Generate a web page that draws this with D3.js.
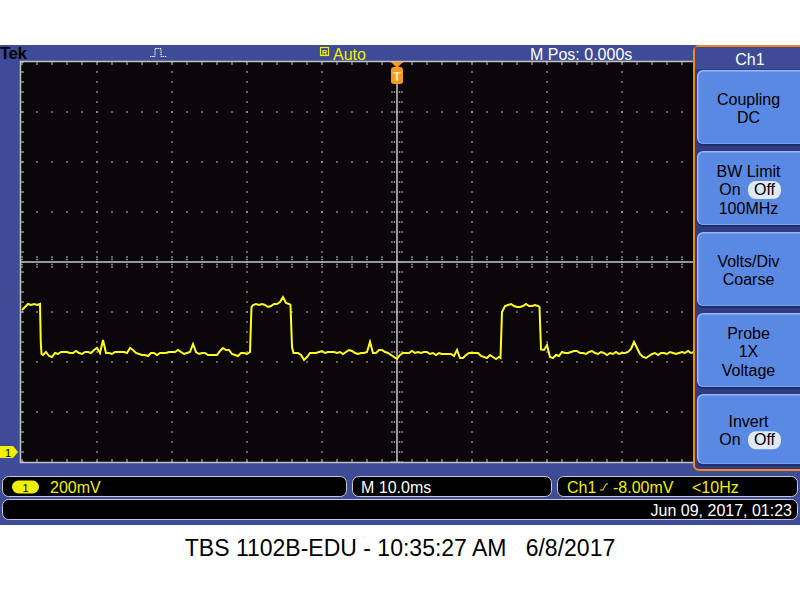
<!DOCTYPE html>
<html><head><meta charset="utf-8">
<script src="https://cdn.jsdelivr.net/npm/d3@7"></script>
<style>body{margin:0;background:#fff}svg{display:block}text{font-family:"Liberation Sans",Arial,sans-serif}</style>
</head><body>
<script>
// ---- data (time in ms, voltage in mV) ----
const times = [-50.0,-49.6,-49.2,-48.8,-48.4,-48.0,-47.6,-47.5,-47.4,-47.2,-46.8,-46.4,-46.0,-45.6,-45.2,-44.8,-44.4,-44.0,-43.6,-43.2,-42.8,-42.4,-42.0,-41.6,-41.2,-40.8,-40.4,-40.0,-39.6,-39.2,-38.8,-38.4,-38.0,-37.6,-37.2,-36.8,-36.4,-36.0,-35.6,-35.2,-34.8,-34.4,-34.0,-33.6,-33.2,-32.8,-32.4,-32.0,-31.6,-31.2,-30.8,-30.4,-30.0,-29.6,-29.2,-28.8,-28.4,-28.0,-27.6,-27.2,-26.8,-26.4,-26.0,-25.6,-25.2,-24.8,-24.4,-24.0,-23.6,-23.2,-22.8,-22.4,-22.0,-21.6,-21.2,-20.8,-20.4,-20.0,-19.6,-19.4,-19.2,-18.8,-18.4,-18.0,-17.6,-17.2,-16.8,-16.4,-16.0,-15.6,-15.2,-14.8,-14.4,-14.2,-14.0,-13.8,-13.6,-13.2,-12.8,-12.4,-12.0,-11.6,-11.2,-10.8,-10.4,-10.0,-9.6,-9.2,-8.8,-8.4,-8.0,-7.6,-7.2,-6.8,-6.4,-6.0,-5.6,-5.2,-4.8,-4.4,-4.0,-3.6,-3.2,-2.8,-2.4,-2.0,-1.6,-1.2,-0.8,-0.4,0.0,0.4,0.8,1.2,1.6,2.0,2.4,2.8,3.2,3.6,4.0,4.4,4.8,5.2,5.6,6.0,6.4,6.8,7.2,7.6,8.0,8.4,8.8,9.2,9.6,10.0,10.4,10.8,11.2,11.6,12.0,12.4,12.8,13.2,13.6,13.8,14.0,14.4,14.8,15.2,15.6,16.0,16.4,16.8,17.2,17.6,18.0,18.4,18.8,19.0,19.2,19.6,20.0,20.4,20.8,21.2,21.6,22.0,22.4,22.8,23.2,23.6,24.0,24.4,24.8,25.2,25.6,26.0,26.4,26.8,27.2,27.6,28.0,28.4,28.8,29.2,29.6,30.0,30.4,30.8,31.2,31.6,32.0,32.4,32.8,33.2,33.6,34.0,34.4,34.8,35.2,35.6,36.0,36.4,36.8,37.2,37.6,38.0,38.4,38.8,39.2,39.6];
const volts = [568,580,592,588,592,588,592,440,392,388,400,384,380,396,392,400,400,400,396,396,404,396,392,400,400,396,408,416,396,448,396,396,392,400,400,400,400,396,416,408,396,392,388,388,384,396,396,388,396,396,396,400,400,400,408,400,392,396,400,432,400,392,396,396,388,388,388,388,404,416,408,408,392,388,384,396,396,392,400,580,588,592,588,592,588,580,584,592,592,600,620,596,592,588,420,396,396,396,388,368,380,396,396,396,400,404,396,400,400,400,396,400,392,400,408,404,396,392,396,396,400,440,396,396,408,408,400,396,388,380,372,388,396,396,396,404,396,400,396,400,400,392,396,388,396,392,392,392,392,384,408,376,376,388,396,396,396,396,384,380,376,388,380,372,380,376,560,584,588,592,584,580,580,584,592,584,584,588,584,580,410,408,428,380,376,388,384,400,396,396,400,404,404,396,396,392,400,404,396,392,400,396,388,396,392,400,392,396,396,400,412,440,416,392,380,376,384,392,396,388,396,396,392,400,396,392,396,400,396,404,396,400];

// ---- settings / labels ----
const timeDomain = [-50, 50];      // 10 ms/div, 10 divisions
const voltDomain = [-40, 1560];    // 200 mV/div, 8 divisions, ground offset
const timeDiv = 10, voltDiv = 200;
const headerLabels = {brand: "Tek", mode: "Auto", mpos: "M Pos: 0.000s"};
const menuTitle = "Ch1";
const menuButtons = [
  ["Coupling", "DC"],
  ["BW Limit", "On|Off", "100MHz"],
  ["Volts/Div", "Coarse"],
  ["Probe", "1X", "Voltage"],
  ["Invert", "On|Off"]
];
const statusLabels = {scale: "200mV", time: "M 10.0ms", trig: "-8.00mV", freq: "<10Hz", date: "Jun 09, 2017, 01:23"};
const caption = "TBS 1102B-EDU - 10:35:27 AM   6/8/2017";

const W = 800, H = 600;
const svg = d3.select("body").append("svg").attr("width", W).attr("height", H);
svg.append("rect").attr("width", W).attr("height", H).attr("fill", "#fff");

const BLUE = "#3e4b96";
svg.append("rect").attr("x", 0).attr("y", 45).attr("width", W).attr("height", 480).attr("fill", BLUE);

// scales
const x = d3.scaleLinear().domain(timeDomain).range([22, 772]);
const y = d3.scaleLinear().domain(voltDomain).range([462, 62]);

// graticule
const gL = 21, gT = 62, gB = 462;
svg.append("rect").attr("x", gL).attr("y", gT).attr("width", 772 - gL).attr("height", gB - gT).attr("fill", "#0a0609");
svg.append("defs").append("clipPath").attr("id", "clip").append("rect")
  .attr("x", gL).attr("y", gT).attr("width", 772 - gL).attr("height", gB - gT);

const grid = svg.append("g");
const dotC = "#a9a9a9";
const majorT = d3.range(timeDomain[0] + timeDiv, timeDomain[1], timeDiv).filter(t => t !== 0);
const majorV = d3.range(voltDomain[0] + voltDiv, voltDomain[1], voltDiv).filter(v => v !== 760);
const minorT = d3.range(timeDomain[0], timeDomain[1] + 0.001, timeDiv / 5);
const minorV = d3.range(voltDomain[0], voltDomain[1] + 0.001, voltDiv / 5);
majorT.forEach(t => minorV.forEach(v => {
  grid.append("rect").attr("x", x(t) - 0.75).attr("y", y(v) - 0.75).attr("width", 1.5).attr("height", 1.5).attr("fill", dotC);
}));
majorV.forEach(v => minorT.forEach(t => {
  grid.append("rect").attr("x", x(t) - 0.75).attr("y", y(v) - 0.75).attr("width", 1.5).attr("height", 1.5).attr("fill", dotC);
}));
grid.append("line").attr("x1", gL).attr("x2", 772).attr("y1", y(760)).attr("y2", y(760)).attr("stroke", "#c8c8c8").attr("stroke-width", 1.5);
grid.append("line").attr("x1", x(0)).attr("x2", x(0)).attr("y1", gT).attr("y2", gB).attr("stroke", "#c8c8c8").attr("stroke-width", 1.5);
minorT.forEach(t => [-5, -2.5, 2.5, 5].forEach(o => {
  grid.append("rect").attr("x", x(t) - 0.75).attr("y", y(760) + o - 0.75).attr("width", 1.5).attr("height", 1.5).attr("fill", dotC);
}));
minorV.forEach(v => [-5, -2.5, 2.5, 5].forEach(o => {
  grid.append("rect").attr("x", x(0) + o - 0.75).attr("y", y(v) - 0.75).attr("width", 1.5).attr("height", 1.5).attr("fill", dotC);
}));
minorT.forEach(t => {
  grid.append("line").attr("x1", x(t)).attr("x2", x(t)).attr("y1", gT).attr("y2", gT + 3).attr("stroke", dotC).attr("stroke-width", 1.2);
  grid.append("line").attr("x1", x(t)).attr("x2", x(t)).attr("y1", gB).attr("y2", gB - 3).attr("stroke", dotC).attr("stroke-width", 1.2);
});
minorV.forEach(v => {
  grid.append("line").attr("x1", gL).attr("x2", gL + 3).attr("y1", y(v)).attr("y2", y(v)).attr("stroke", dotC).attr("stroke-width", 1.2);
});
grid.append("path").attr("d", `M${772},${gT - 0.5}H${gL - 0.5}V${gB + 0.5}H772`).attr("fill", "none").attr("stroke", "#c4c4c4").attr("stroke-width", 1.5);

// trace
const line = d3.line().x((d, i) => x(times[i])).y((d, i) => y(volts[i]));
svg.append("path").datum(volts).attr("clip-path", "url(#clip)")
  .attr("d", line).attr("fill", "none").attr("stroke", "#ffff1a").attr("stroke-width", 2).attr("stroke-linejoin", "miter");

// header
svg.append("text").attr("x", 0).attr("y", 59).attr("font-size", 17).attr("font-weight", "bold").attr("fill", "#000").attr("letter-spacing", -0.5).text(headerLabels.brand);
svg.append("path").attr("d", "M150,56.5H155V48.5H161V56.5H167").attr("fill", "none").attr("stroke", "#fff").attr("stroke-width", 1).attr("stroke-dasharray", "1.5,0.7");
svg.append("rect").attr("x", 320.5).attr("y", 47.5).attr("width", 8).attr("height", 8).attr("fill", "none").attr("stroke", "#f0f000").attr("stroke-width", 1.2);
svg.append("text").attr("x", 324.5).attr("y", 54.5).attr("font-size", 7).attr("font-weight", "bold").attr("text-anchor", "middle").attr("fill", "#f0f000").text("R");
svg.append("text").attr("x", 333).attr("y", 60).attr("font-size", 16).attr("fill", "#f0f000").text(headerLabels.mode);
svg.append("text").attr("x", 530).attr("y", 60).attr("font-size", 16).attr("fill", "#fff").text(headerLabels.mpos);

// trigger position marker
const tx = x(0);
svg.append("path").attr("d", `M${tx - 6},62L${tx + 6},62L${tx},68Z`).attr("fill", "#f59a1e");
svg.append("rect").attr("x", tx - 6).attr("y", 67).attr("width", 12).attr("height", 17).attr("rx", 3).attr("fill", "#f59a1e");
svg.append("text").attr("x", tx).attr("y", 81).attr("font-size", 13).attr("font-weight", "bold").attr("text-anchor", "middle").attr("fill", "#ffe9b8").text("T");

// channel 1 ground marker
const gy = y(0);
svg.append("path").attr("d", `M0,${gy - 6}H13L18,${gy}L13,${gy + 6}H0Z`).attr("fill", "#f2f000");
svg.append("text").attr("x", 8).attr("y", gy + 4.5).attr("font-size", 11).attr("text-anchor", "middle").attr("fill", "#000").text("1");

// right menu
const menu = svg.append("g");
menu.append("rect").attr("x", 694).attr("y", 46).attr("width", 120).attr("height", 424).attr("rx", 5)
  .attr("fill", "#2f3c84").attr("stroke", "#f08a1a").attr("stroke-width", 2);
menu.append("rect").attr("x", 695).attr("y", 47).attr("width", 110).attr("height", 22).attr("fill", BLUE);
menu.append("text").attr("x", 750).attr("y", 65).attr("font-size", 16).attr("text-anchor", "middle").attr("fill", "#fff").text(menuTitle);
const btnTops = [70, 151, 232, 313, 394];
const btnH = 76;
menuButtons.forEach((lines, i) => {
  const top = btnTops[i];
  const h = i === 4 ? 72 : btnH;
  const g = menu.append("g");
  g.append("rect").attr("x", 697).attr("y", top).attr("width", 110).attr("height", h).attr("rx", 6).attr("fill", "#1f2c66");
  g.append("rect").attr("x", 697).attr("y", top).attr("width", 110).attr("height", h - 2).attr("rx", 6).attr("fill", "#9ab6f2");
  g.append("rect").attr("x", 698.5).attr("y", top + 1.5).attr("width", 108).attr("height", h - 4).attr("rx", 5).attr("fill", "#5a89e3");
  const n = lines.length;
  const lh = 18.5;
  const cy = top + h / 2 - (n - 1) * lh / 2;
  lines.forEach((s, j) => {
    const yy = cy + j * lh + 6;
    if (s.includes("|")) {
      const [a, b] = s.split("|");
      g.append("text").attr("x", 730).attr("y", yy).attr("font-size", 16).attr("text-anchor", "middle").attr("fill", "#000").text(a);
      g.append("rect").attr("x", 748).attr("y", yy - 14).attr("width", 33).attr("height", 18).attr("rx", 8).attr("fill", "#dfe8f7");
      g.append("text").attr("x", 764.5).attr("y", yy).attr("font-size", 16).attr("text-anchor", "middle").attr("fill", "#000").text(b);
    } else {
      g.append("text").attr("x", 748.5).attr("y", yy).attr("font-size", 16).attr("text-anchor", "middle").attr("fill", "#000").text(s);
    }
  });
});

// status boxes
const box = (x0, y0, w, h) => svg.append("rect").attr("x", x0 + 0.5).attr("y", y0 + 0.5).attr("width", w).attr("height", h).attr("rx", 6)
  .attr("fill", "#000").attr("stroke", "#c8c8d0").attr("stroke-width", 1);
box(2, 476, 344, 20);
box(352, 476, 199, 20);
box(557, 476, 240, 20);
box(2, 499, 795, 20);
svg.append("rect").attr("x", 12).attr("y", 480.5).attr("width", 27).attr("height", 13).attr("rx", 6.5).attr("fill", "#f2f000");
svg.append("text").attr("x", 25.5).attr("y", 491.5).attr("font-size", 11).attr("text-anchor", "middle").attr("fill", "#000").text("1");
svg.append("text").attr("x", 50).attr("y", 493).attr("font-size", 16).attr("fill", "#f0f000").text(statusLabels.scale);
svg.append("text").attr("x", 361).attr("y", 493).attr("font-size", 16).attr("fill", "#fff").text(statusLabels.time);
svg.append("text").attr("x", 567).attr("y", 493).attr("font-size", 16).attr("fill", "#f0f000").text("Ch1");
svg.append("path").attr("d", "M600,490L603,490L606,484L608,484").attr("fill", "none").attr("stroke", "#f0f000").attr("stroke-width", 1);
svg.append("text").attr("x", 613).attr("y", 493).attr("font-size", 16).attr("fill", "#f0f000").text(statusLabels.trig);
svg.append("text").attr("x", 692).attr("y", 493).attr("font-size", 16).attr("fill", "#f0f000").text(statusLabels.freq);
svg.append("text").attr("x", 792).attr("y", 516).attr("font-size", 16).attr("text-anchor", "end").attr("fill", "#fff").text(statusLabels.date);

// caption
svg.append("text").attr("x", 400).attr("y", 556).attr("font-size", 23).attr("text-anchor", "middle").attr("fill", "#000")
  .attr("xml:space", "preserve").style("white-space", "pre").text(caption);
</script>
</body></html>
